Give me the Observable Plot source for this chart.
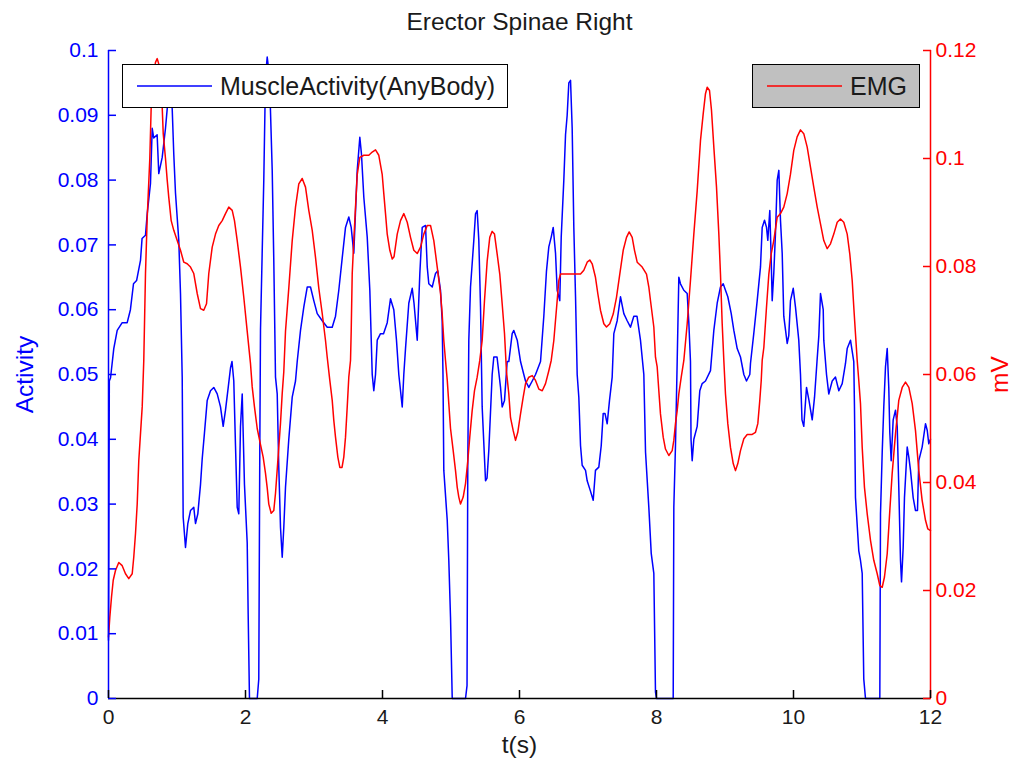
<!DOCTYPE html>
<html>
<head>
<meta charset="utf-8">
<script src="https://cdn.jsdelivr.net/npm/d3@7"></script>
<script src="https://cdn.jsdelivr.net/npm/@observablehq/plot@0.6"></script>
<style>
  html, body { margin: 0; padding: 0; background: #fff; }
  #wrap { position: relative; width: 1017px; height: 771px; font-family: "Liberation Sans", Arial, sans-serif; }
  .legend { position: absolute; box-sizing: border-box; border: 1.5px solid #000; display: flex; align-items: center; }
  .legend svg { display: block; flex: none; }
  .legend span { font-size: 25px; color: #1a1a1a; white-space: nowrap; }
</style>
</head>
<body>
<div id="wrap"></div>
<script>
const chartTitle = "Erector Spinae Right";
const xLabel = "t(s)";
const leftLabel = "Activity";
const rightLabel = "mV";
const activityName = "MuscleActivity(AnyBody)";
const emgName = "EMG";

const xTicks = [0, 2, 4, 6, 8, 10, 12];
const activityTicks = [0, 0.01, 0.02, 0.03, 0.04, 0.05, 0.06, 0.07, 0.08, 0.09, 0.1];
const mvTicks = [0, 0.02, 0.04, 0.06, 0.08, 0.1, 0.12];

const activityT = [0,0.012,0.03,0.077,0.127,0.2,0.273,0.32,0.365,0.41,0.467,0.49,0.54,0.565,0.613,0.638,0.66,0.71,0.734,0.784,0.832,0.857,0.89,0.93,0.953,0.978,1.026,1.051,1.076,1.09,1.124,1.158,1.197,1.245,1.27,1.304,1.343,1.368,1.401,1.441,1.489,1.537,1.587,1.635,1.674,1.708,1.742,1.781,1.803,1.829,1.854,1.879,1.902,1.927,1.952,1.985,2.025,2.039,2.058,2.171,2.194,2.209,2.219,2.267,2.292,2.317,2.35,2.39,2.413,2.438,2.463,2.486,2.511,2.536,2.559,2.584,2.632,2.682,2.73,2.755,2.803,2.851,2.901,2.949,2.997,3.047,3.12,3.193,3.266,3.314,3.362,3.412,3.46,3.508,3.543,3.581,3.631,3.669,3.693,3.727,3.777,3.815,3.85,3.873,3.898,3.923,3.971,4.015,4.069,4.117,4.165,4.204,4.238,4.288,4.311,4.336,4.384,4.434,4.46,4.507,4.545,4.58,4.628,4.653,4.676,4.726,4.774,4.807,4.847,4.871,4.883,4.895,4.945,4.968,4.993,5.018,5.212,5.234,5.245,5.26,5.285,5.333,5.358,5.382,5.406,5.431,5.455,5.504,5.526,5.552,5.601,5.625,5.672,5.723,5.747,5.781,5.82,5.844,5.893,5.917,5.967,6.015,6.063,6.088,6.136,6.186,6.234,6.307,6.355,6.394,6.428,6.463,6.492,6.526,6.55,6.588,6.609,6.647,6.672,6.696,6.72,6.745,6.769,6.793,6.818,6.842,6.866,6.891,6.915,6.964,6.988,7.036,7.076,7.109,7.158,7.193,7.222,7.248,7.28,7.314,7.353,7.377,7.426,7.474,7.523,7.572,7.62,7.669,7.715,7.766,7.815,7.84,7.888,7.923,7.961,7.985,8.0,8.244,8.253,8.277,8.302,8.326,8.35,8.399,8.448,8.472,8.496,8.504,8.521,8.545,8.594,8.632,8.667,8.715,8.788,8.837,8.886,8.934,8.974,9.007,9.041,9.091,9.129,9.178,9.226,9.275,9.314,9.362,9.372,9.42,9.47,9.518,9.543,9.577,9.606,9.625,9.654,9.674,9.689,9.712,9.737,9.762,9.786,9.81,9.835,9.858,9.908,9.931,9.956,9.996,10.029,10.077,10.102,10.124,10.15,10.19,10.226,10.273,10.307,10.343,10.37,10.394,10.434,10.442,10.482,10.515,10.565,10.613,10.662,10.711,10.759,10.784,10.832,10.88,10.89,10.905,10.953,10.978,11.003,11.026,11.051,11.26,11.27,11.295,11.318,11.343,11.368,11.391,11.406,11.426,11.455,11.489,11.514,11.537,11.562,11.577,11.601,11.62,11.66,11.684,11.708,11.747,11.781,11.81,11.829,11.878,11.927,11.952,11.975,12.0];
const activity = [0.009,0.049,0.0495,0.054,0.0568,0.058,0.058,0.06,0.064,0.0645,0.0676,0.071,0.0715,0.0748,0.0795,0.088,0.0865,0.087,0.081,0.0835,0.088,0.091,0.095,0.091,0.084,0.078,0.0707,0.0625,0.0496,0.028,0.0233,0.027,0.029,0.0295,0.027,0.0285,0.033,0.037,0.041,0.046,0.0475,0.048,0.047,0.045,0.042,0.0445,0.0475,0.051,0.052,0.049,0.039,0.0295,0.0285,0.042,0.047,0.033,0.024,0.013,0,0,0.003,0.039,0.057,0.08,0.096,0.099,0.096,0.0815,0.0676,0.0496,0.047,0.0357,0.0264,0.0218,0.0264,0.0326,0.04,0.0465,0.049,0.052,0.0568,0.0604,0.0635,0.0635,0.0614,0.0594,0.0583,0.0573,0.0573,0.059,0.063,0.068,0.0727,0.0743,0.0727,0.0687,0.0815,0.0866,0.084,0.0774,0.0712,0.063,0.05,0.0475,0.05,0.0553,0.0563,0.0563,0.058,0.0617,0.06,0.0553,0.05,0.045,0.05,0.054,0.061,0.0633,0.061,0.0553,0.0656,0.0727,0.073,0.0666,0.064,0.0635,0.0656,0.066,0.063,0.0583,0.05,0.0352,0.0275,0.0213,0.0125,0,0,0.002,0.036,0.0553,0.0635,0.0707,0.0748,0.0753,0.0707,0.0604,0.045,0.0336,0.034,0.0383,0.05,0.0527,0.0527,0.048,0.045,0.046,0.052,0.052,0.0563,0.0568,0.0553,0.052,0.05,0.049,0.048,0.049,0.05,0.052,0.059,0.066,0.0697,0.0712,0.0727,0.0687,0.063,0.0614,0.0712,0.08,0.087,0.09,0.095,0.0954,0.088,0.0727,0.062,0.05,0.0465,0.039,0.036,0.0352,0.0336,0.032,0.0306,0.0352,0.0357,0.039,0.044,0.044,0.0424,0.046,0.0496,0.0563,0.0583,0.062,0.0594,0.0583,0.0573,0.059,0.059,0.0553,0.05,0.038,0.0295,0.0224,0.0193,0.001,0,0,0.0295,0.039,0.052,0.065,0.064,0.063,0.0625,0.058,0.052,0.04,0.0367,0.04,0.042,0.0475,0.0486,0.049,0.0506,0.0568,0.061,0.0635,0.064,0.063,0.062,0.0594,0.0568,0.054,0.0527,0.05,0.049,0.05,0.0517,0.0563,0.0614,0.0666,0.0727,0.0738,0.0727,0.0707,0.0753,0.068,0.0614,0.0656,0.0718,0.08,0.0815,0.0738,0.0687,0.059,0.0548,0.056,0.0614,0.0633,0.0604,0.0553,0.05,0.043,0.042,0.048,0.046,0.043,0.0465,0.052,0.056,0.0625,0.06,0.0553,0.05,0.047,0.049,0.0496,0.0475,0.0486,0.0517,0.054,0.0553,0.052,0.045,0.031,0.0228,0.0213,0.0193,0.003,0,0,0.0285,0.038,0.045,0.0512,0.054,0.048,0.041,0.0367,0.043,0.0445,0.042,0.0326,0.0213,0.018,0.0233,0.031,0.0388,0.0372,0.0352,0.031,0.029,0.029,0.0367,0.0388,0.0424,0.0414,0.0393,0.04];

const emgT = [0,0.019,0.044,0.069,0.102,0.15,0.2,0.248,0.296,0.346,0.369,0.394,0.419,0.442,0.492,0.515,0.54,0.565,0.603,0.623,0.653,0.686,0.711,0.734,0.759,0.784,0.799,0.832,0.857,0.88,0.915,0.953,1.003,1.051,1.099,1.149,1.197,1.245,1.295,1.343,1.391,1.431,1.464,1.514,1.562,1.61,1.66,1.708,1.756,1.806,1.839,1.879,1.927,1.975,2.025,2.073,2.098,2.131,2.171,2.219,2.258,2.292,2.317,2.34,2.375,2.413,2.438,2.472,2.511,2.536,2.559,2.584,2.632,2.682,2.73,2.778,2.828,2.876,2.924,2.974,3.022,3.07,3.12,3.168,3.193,3.231,3.266,3.289,3.314,3.348,3.377,3.409,3.435,3.46,3.485,3.508,3.533,3.543,3.558,3.581,3.606,3.631,3.669,3.727,3.8,3.85,3.898,3.946,3.996,4.019,4.044,4.069,4.107,4.142,4.168,4.215,4.263,4.311,4.361,4.409,4.457,4.507,4.555,4.603,4.653,4.701,4.749,4.799,4.847,4.871,4.895,4.92,4.945,4.968,4.993,5.032,5.066,5.091,5.114,5.139,5.178,5.212,5.245,5.274,5.309,5.343,5.382,5.42,5.455,5.489,5.528,5.566,5.601,5.635,5.674,5.712,5.747,5.781,5.81,5.844,5.869,5.908,5.942,5.975,6.015,6.054,6.088,6.136,6.186,6.234,6.282,6.332,6.38,6.428,6.463,6.501,6.55,6.574,6.599,6.891,6.939,6.988,7.026,7.061,7.109,7.143,7.182,7.231,7.27,7.318,7.368,7.416,7.464,7.514,7.562,7.601,7.645,7.679,7.718,7.791,7.854,7.888,7.912,7.961,7.985,8.01,8.034,8.058,8.098,8.131,8.18,8.229,8.253,8.277,8.302,8.326,8.361,8.399,8.448,8.496,8.545,8.594,8.642,8.682,8.715,8.74,8.774,8.803,8.837,8.876,8.91,8.934,8.959,8.983,9.007,9.041,9.08,9.12,9.153,9.187,9.226,9.275,9.324,9.397,9.445,9.479,9.508,9.529,9.543,9.567,9.606,9.64,9.674,9.712,9.762,9.81,9.858,9.908,9.956,10.004,10.053,10.102,10.15,10.2,10.248,10.296,10.346,10.394,10.442,10.492,10.54,10.588,10.638,10.686,10.734,10.784,10.822,10.857,10.88,10.905,10.93,10.953,10.978,11.003,11.036,11.076,11.124,11.172,11.222,11.26,11.295,11.328,11.368,11.406,11.44,11.489,11.537,11.587,11.635,11.684,11.733,11.781,11.829,11.878,11.927,11.961,12.0];
const emg = [0.0114,0.015,0.0188,0.0219,0.0237,0.0252,0.0246,0.0231,0.0222,0.0231,0.0262,0.0305,0.036,0.044,0.054,0.0626,0.0787,0.089,0.1,0.1095,0.115,0.1178,0.1185,0.1175,0.115,0.1095,0.1046,0.1,0.096,0.0928,0.0885,0.0867,0.0848,0.083,0.0808,0.0805,0.0799,0.0787,0.075,0.0722,0.0719,0.0731,0.0787,0.0836,0.086,0.0876,0.0885,0.0898,0.091,0.0904,0.0885,0.0848,0.0799,0.0743,0.068,0.062,0.0577,0.054,0.05,0.047,0.0447,0.0417,0.039,0.036,0.0343,0.0348,0.038,0.044,0.051,0.0565,0.0605,0.068,0.076,0.0848,0.091,0.0953,0.0963,0.0947,0.0904,0.0867,0.0817,0.076,0.0713,0.0663,0.0632,0.0589,0.0552,0.0515,0.0484,0.0447,0.0428,0.0428,0.0447,0.0484,0.054,0.0595,0.0626,0.068,0.0787,0.0848,0.091,0.097,0.1002,0.1006,0.1006,0.1012,0.1016,0.1006,0.097,0.0935,0.0898,0.086,0.083,0.0814,0.0818,0.086,0.0885,0.0898,0.0882,0.0854,0.083,0.0824,0.0836,0.086,0.0876,0.0876,0.0848,0.0799,0.075,0.0713,0.0663,0.0626,0.059,0.0546,0.05,0.0459,0.0422,0.0391,0.0373,0.036,0.0373,0.0398,0.044,0.0484,0.0533,0.057,0.0595,0.0626,0.0663,0.0737,0.081,0.0854,0.0865,0.086,0.0823,0.0786,0.0731,0.0676,0.0605,0.0564,0.052,0.0496,0.0478,0.0493,0.0527,0.0558,0.0583,0.0595,0.0598,0.0589,0.0573,0.057,0.0583,0.0607,0.0626,0.0663,0.0737,0.0774,0.0786,0.0786,0.0793,0.0808,0.0812,0.0805,0.078,0.075,0.0719,0.0694,0.0688,0.0694,0.0712,0.0743,0.0786,0.083,0.0854,0.0864,0.0854,0.083,0.0808,0.0799,0.0786,0.0762,0.0737,0.0688,0.0632,0.0614,0.057,0.0527,0.0484,0.0462,0.045,0.0459,0.0478,0.0509,0.0533,0.0564,0.0595,0.0626,0.0694,0.0774,0.086,0.094,0.1033,0.1083,0.112,0.1132,0.1126,0.1089,0.1021,0.0947,0.086,0.0786,0.0694,0.0626,0.0564,0.0509,0.0465,0.0435,0.0422,0.0435,0.0459,0.0481,0.0489,0.0489,0.0493,0.0509,0.0552,0.0589,0.0626,0.065,0.0725,0.0786,0.0823,0.0848,0.0891,0.0898,0.091,0.0935,0.0971,0.1015,0.104,0.1053,0.1046,0.1021,0.0984,0.0947,0.091,0.0879,0.0848,0.0833,0.0842,0.086,0.0882,0.0888,0.0882,0.086,0.0823,0.0774,0.0725,0.0675,0.0626,0.0589,0.0546,0.0465,0.0391,0.0342,0.0293,0.0256,0.0231,0.0209,0.0206,0.0225,0.0268,0.0348,0.0416,0.049,0.0552,0.0576,0.0586,0.0576,0.0546,0.0496,0.0422,0.0367,0.033,0.0314,0.0311];

const BLUE = "#0000ff", RED = "#ff0000", INK = "#1a1a1a";
const activityMax = 0.1, mvMax = 0.12;
const k = activityMax / mvMax;   // map mV onto the activity scale

const actData = activityT.map((t, i) => ({t, v: activity[i]}));
const emgData = emgT.map((t, i) => ({t, v: emg[i] * k}));
const fmt = d3.format("~g");
const mvScaled = mvTicks.map(v => v * k);
const blank = () => "";
const TICK_FONT = 21, LABEL_FONT = 24.5;

const chart = Plot.plot({
  width: 1017,
  height: 771,
  marginLeft: 108,
  marginRight: 87,
  marginTop: 50,
  marginBottom: 73,
  style: { fontFamily: "'Liberation Sans', Arial, sans-serif", background: "#fff", overflow: "visible" },
  x: { domain: [0, 12] },
  y: { domain: [0, activityMax] },
  marks: [
    Plot.line(actData, { x: "t", y: "v", stroke: BLUE, strokeWidth: 1.5 }),
    Plot.line(emgData, { x: "t", y: "v", stroke: RED, strokeWidth: 1.5 }),
    // axis lines
    Plot.ruleX([0], { stroke: BLUE, strokeWidth: 1.5 }),
    Plot.ruleX([12], { stroke: RED, strokeWidth: 1.5 }),
    Plot.ruleY([0], { stroke: "#000", strokeWidth: 1.5 }),
    // left axis (Activity): inward ticks, then labels
    Plot.axisY({ anchor: "left", ticks: activityTicks, tickSize: 8, dx: 8, stroke: BLUE, strokeWidth: 1.5, tickFormat: blank, label: null }),
    Plot.axisY({ anchor: "left", ticks: activityTicks, tickSize: 0, tickPadding: 10, color: BLUE, fill: BLUE, fontSize: TICK_FONT, tickFormat: fmt, label: null }),
    // right axis (mV)
    Plot.axisY({ anchor: "right", ticks: mvScaled, tickSize: 8, dx: -8, stroke: RED, strokeWidth: 1.5, tickFormat: blank, label: null }),
    Plot.axisY({ anchor: "right", ticks: mvScaled, tickSize: 0, tickPadding: 5, color: RED, fill: RED, fontSize: TICK_FONT, tickFormat: d => fmt(+(d / k).toFixed(4)), label: null }),
    // bottom axis
    Plot.axisX({ anchor: "bottom", ticks: xTicks, tickSize: 8, dy: -8, stroke: "#000", strokeWidth: 1.5, tickFormat: blank, label: null }),
    Plot.axisX({ anchor: "bottom", ticks: xTicks, tickSize: 0, tickPadding: 11, color: INK, fill: INK, fontSize: TICK_FONT, tickFormat: fmt, label: null }),
    // labels & title
    Plot.text([leftLabel], { frameAnchor: "left", dx: -83, rotate: -90, textAnchor: "middle", lineAnchor: "middle", fill: BLUE, fontSize: LABEL_FONT, text: d => d }),
    Plot.text([rightLabel], { frameAnchor: "right", dx: 70, rotate: -90, textAnchor: "middle", lineAnchor: "middle", fill: RED, fontSize: LABEL_FONT, text: d => d }),
    Plot.text([xLabel], { frameAnchor: "bottom", dy: 47, lineAnchor: "middle", fill: INK, fontSize: LABEL_FONT, text: d => d }),
    Plot.text([chartTitle], { frameAnchor: "top", dy: -28, lineAnchor: "middle", fill: INK, fontSize: LABEL_FONT, text: d => d })
  ]
});

const wrap = document.getElementById("wrap");
wrap.appendChild(chart);

function legendBox(name, color, left, width, bg) {
  const box = document.createElement("div");
  box.className = "legend";
  Object.assign(box.style, { left: left + "px", top: "64px", width: width + "px", height: "44px", background: bg });
  const line = document.createElementNS("http://www.w3.org/2000/svg", "svg");
  line.setAttribute("width", "97");
  line.setAttribute("height", "20");
  line.innerHTML = `<line x1="14" x2="89" y1="10" y2="10" stroke="${color}" stroke-width="1.5"/>`;
  const label = document.createElement("span");
  label.textContent = name;
  box.appendChild(line);
  box.appendChild(label);
  wrap.appendChild(box);
}
legendBox(activityName, BLUE, 122, 386, "#fff");
legendBox(emgName, RED, 752, 168, "#c0c0c0");
</script>
</body>
</html>
